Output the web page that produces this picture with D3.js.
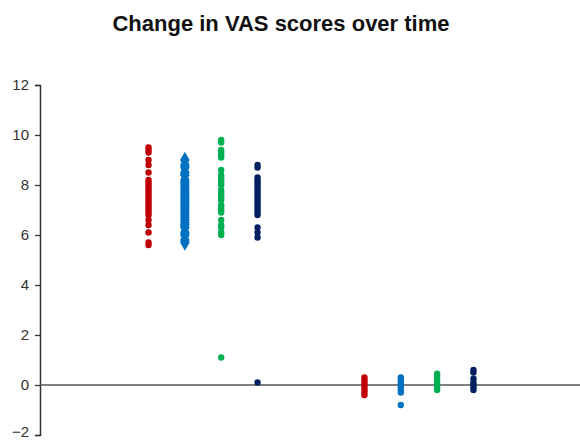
<!DOCTYPE html>
<html>
<head>
<meta charset="utf-8">
<title>Change in VAS scores over time</title>
<script src="https://d3js.org/d3.v7.min.js"></script>
<style>
  body { margin: 0; background: #fff; font-family: "Liberation Sans", Arial, sans-serif; }
  .axis text { font-size: 15px; fill: #333; }
</style>
</head>
<body>
<div id="chart"></div>
<script>
// time points and series
const timepoints = ["Baseline", "Follow-up"];
const seriesNames = ["Red", "Blue", "Green", "Navy"];
const seriesColors = ["#c00000", "#0070c0", "#00b050", "#002060"];
const yTicks = [-2, 0, 2, 4, 6, 8, 10, 12];

// VAS values per series, baseline
const redBaseline = [9.5, 9.4, 9.3, 9.0, 8.8, 8.5, 8.2, 8.1, 8.0, 7.9, 7.8, 7.7, 7.6, 7.5, 7.4, 7.3, 7.2, 7.1, 7.0, 6.9, 6.8, 6.6, 6.4, 6.1, 5.7, 5.6];
const blueBaseline = [9.0, 8.8, 8.7, 8.5, 8.4, 8.2, 8.1, 8.0, 7.9, 7.8, 7.7, 7.6, 7.5, 7.4, 7.3, 7.2, 7.1, 7.0, 6.9, 6.8, 6.7, 6.6, 6.5, 6.4, 6.3, 6.1, 6.0, 5.8, 5.7];
const greenBaseline = [9.8, 9.7, 9.4, 9.3, 9.2, 9.1, 8.6, 8.4, 8.3, 8.2, 8.1, 8.0, 7.8, 7.7, 7.6, 7.5, 7.4, 7.2, 7.1, 7.0, 6.9, 6.6, 6.4, 6.3, 6.1, 6.0, 1.1];
const navyBaseline = [8.8, 8.7, 8.3, 8.2, 8.1, 8.0, 7.9, 7.8, 7.7, 7.6, 7.5, 7.4, 7.3, 7.2, 7.1, 7.0, 6.9, 6.8, 6.3, 6.1, 5.9, 0.1];

// VAS values per series, follow-up
const redFollow = [0.3, 0.2, 0.1, 0.0, -0.1, -0.2, -0.3, -0.4];
const blueFollow = [0.3, 0.2, 0.1, 0.0, -0.1, -0.2, -0.3, -0.8];
const greenFollow = [0.45, 0.35, 0.2, 0.1, 0.0, -0.1, -0.2];
const navyFollow = [0.6, 0.5, 0.25, 0.1, 0.0, -0.1, -0.2];

const baseline = [redBaseline, blueBaseline, greenBaseline, navyBaseline];
const follow = [redFollow, blueFollow, greenFollow, navyFollow];

const width = 580, height = 441;
const svg = d3.select("#chart").append("svg")
  .attr("width", width)
  .attr("height", height);

const x = d3.scalePoint().domain(timepoints).range([40, 582]).padding(0.755);
const xs = d3.scalePoint().domain(seriesNames).range([-54.5, 54.5]);
const y = d3.scaleLinear().domain([-2, 12]).range([435, 85]);

// Title
svg.append("text")
  .attr("x", 281)
  .attr("y", 31)
  .attr("text-anchor", "middle")
  .style("font-size", "22px")
  .style("font-weight", "bold")
  .style("fill", "#111")
  .text("Change in VAS scores over time");

// Y axis
const yAxis = svg.append("g")
  .attr("class", "axis")
  .attr("transform", "translate(40,0)")
  .call(d3.axisLeft(y).tickValues(yTicks).tickSize(5).tickPadding(6));
yAxis.select(".domain").attr("stroke", "#333").attr("stroke-width", 1.5);
yAxis.selectAll(".tick line").attr("stroke", "#333").attr("stroke-width", 1.3);
yAxis.selectAll(".tick text").attr("dy", d => d === -2 ? "0.1em" : "0.32em");

// zero line
svg.append("line")
  .attr("x1", 40).attr("x2", width)
  .attr("y1", y(0)).attr("y2", y(0))
  .attr("stroke", "#555")
  .attr("stroke-width", 1.5);

// points
const points = [];
[baseline, follow].forEach((group, gi) => {
  group.forEach((vals, si) => {
    vals.forEach(v => points.push({ t: timepoints[gi], s: seriesNames[si], si, v }));
  });
});

svg.append("g").selectAll("path")
  .data(points)
  .enter().append("path")
  .attr("transform", d => `translate(${x(d.t) + xs(d.s)},${y(d.v)})`)
  .attr("d", d => {
    if (d.s === "Blue" && d.t === "Baseline") return d3.symbol(d3.symbolDiamond, 80)();
    return d3.symbol(d3.symbolCircle, 32)();
  })
  .attr("fill", d => seriesColors[d.si]);
</script>
</body>
</html>
